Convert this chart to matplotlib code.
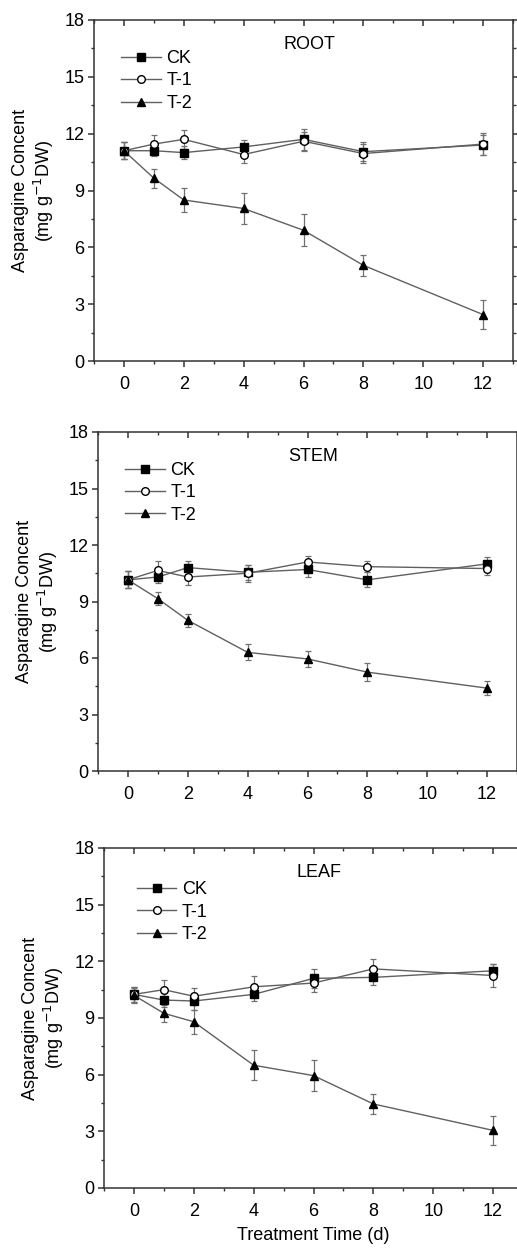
import matplotlib
matplotlib.use("Agg")
import matplotlib.pyplot as plt
import numpy as np

plt.rcParams['font.family'] = ['Liberation Sans', 'DejaVu Sans']

days = [0, 1, 2, 4, 6, 8, 12]
series_names = ["CK", "T-1", "T-2"]

# ROOT
root_ck = [11.1, 11.1, 11.0, 11.3, 11.7, 11.05, 11.4]
root_t1 = [11.1, 11.45, 11.7, 10.9, 11.6, 10.95, 11.45]
root_t2 = [11.1, 9.65, 8.5, 8.05, 6.9, 5.05, 2.45]
root_ck_err = [0.45, 0.3, 0.35, 0.35, 0.55, 0.5, 0.55]
root_t1_err = [0.45, 0.5, 0.5, 0.45, 0.5, 0.5, 0.6]
root_t2_err = [0.45, 0.5, 0.65, 0.8, 0.85, 0.55, 0.77]

# STEM
stem_ck = [10.15, 10.3, 10.8, 10.55, 10.7, 10.15, 11.0]
stem_t1 = [10.15, 10.65, 10.3, 10.5, 11.1, 10.85, 10.75]
stem_t2 = [10.15, 9.15, 8.0, 6.3, 5.95, 5.25, 4.4]
stem_ck_err = [0.45, 0.3, 0.35, 0.4, 0.4, 0.4, 0.35]
stem_t1_err = [0.45, 0.5, 0.45, 0.45, 0.3, 0.3, 0.35]
stem_t2_err = [0.45, 0.35, 0.35, 0.42, 0.42, 0.47, 0.38]

# LEAF
leaf_ck = [10.25, 9.95, 9.9, 10.25, 11.1, 11.15, 11.5]
leaf_t1 = [10.25, 10.5, 10.15, 10.65, 10.85, 11.6, 11.25]
leaf_t2 = [10.2, 9.25, 8.8, 6.5, 5.95, 4.45, 3.05]
leaf_ck_err = [0.4, 0.35, 0.45, 0.35, 0.5, 0.4, 0.35]
leaf_t1_err = [0.4, 0.5, 0.45, 0.55, 0.45, 0.55, 0.6]
leaf_t2_err = [0.4, 0.45, 0.65, 0.8, 0.82, 0.55, 0.77]

panels = [
    ("ROOT", [root_ck, root_t1, root_t2], [root_ck_err, root_t1_err, root_t2_err]),
    ("STEM", [stem_ck, stem_t1, stem_t2], [stem_ck_err, stem_t1_err, stem_t2_err]),
    ("LEAF", [leaf_ck, leaf_t1, leaf_t2], [leaf_ck_err, leaf_t1_err, leaf_t2_err]),
]

W, H = 517, 1249
# axes boxes in pixels: left, top, right, bottom
boxes = [(94, 20, 513, 361), (98, 432, 517, 771), (104, 848, 523, 1188)]
legend_pos = [(0.065, 0.912), (0.065, 0.912), (0.078, 0.902)]

markers = [dict(marker="s", mfc="black", mec="black"),
           dict(marker="o", mfc="white", mec="black"),
           dict(marker="^", mfc="black", mec="black")]

FS = 13

fig = plt.figure(figsize=(W / 100, H / 100), dpi=100)

for (name, vals, errs), (l, t, r, b), lpos in zip(panels, boxes, legend_pos):
    ax = fig.add_axes([l / W, 1 - b / H, (r - l) / W, (b - t) / H])
    handles = []
    for label, v, e, mk in zip(series_names, vals, errs, markers):
        c = ax.errorbar(days, v, yerr=e, color="#606060", lw=1.0, ms=5.5,
                        ecolor="#707070", elinewidth=0.9, capsize=2.2, capthick=0.9,
                        label=label, **mk)
        handles.append(c[0])
    ax.set_xlim(-1, 13)
    ax.set_ylim(0, 18)
    ax.set_xticks(np.arange(0, 13, 2))
    ax.set_xticks(np.arange(-1, 14, 1), minor=True)
    ax.set_yticks(np.arange(0, 19, 3))
    ax.set_yticks(np.arange(0, 18.1, 1.5), minor=True)
    ax.tick_params(axis="both", which="major", labelsize=FS, length=4, width=1.1, color="#333333")
    ax.tick_params(axis="both", which="minor", length=2.5, width=1.0, color="#333333")
    ax.tick_params(axis="x", which="major", pad=7)
    ax.tick_params(axis="y", which="major", pad=3)
    ax.tick_params(axis="x", which="both", top=True, direction="out")
    ax.tick_params(axis="y", which="both", right=True, direction="out")
    # top and right ticks point inward
    for tk in ax.xaxis.get_major_ticks() + ax.xaxis.get_minor_ticks():
        tk.tick2line.set_marker(3)
    for tk in ax.yaxis.get_major_ticks() + ax.yaxis.get_minor_ticks():
        tk.tick2line.set_marker(1)
    for sp in ax.spines.values():
        sp.set_linewidth(1.1)
        sp.set_color("#333333")
    ax.set_ylabel("Asparagine Concent\n(mg g$^{-1}$DW)", fontsize=FS, labelpad=6,
                  linespacing=1.15)
    ax.text(6.2, 16.7, name, fontsize=FS, ha="center", va="center")
    ax.legend(handles=handles, labels=series_names, loc="upper left", bbox_to_anchor=lpos,
              frameon=False, fontsize=FS, handlelength=2.2, handletextpad=0.3,
              labelspacing=0.3, borderaxespad=0, borderpad=0)

ax.set_xlabel("Treatment Time (d)", fontsize=FS, labelpad=5)

fig.savefig("out.png", dpi=100)
